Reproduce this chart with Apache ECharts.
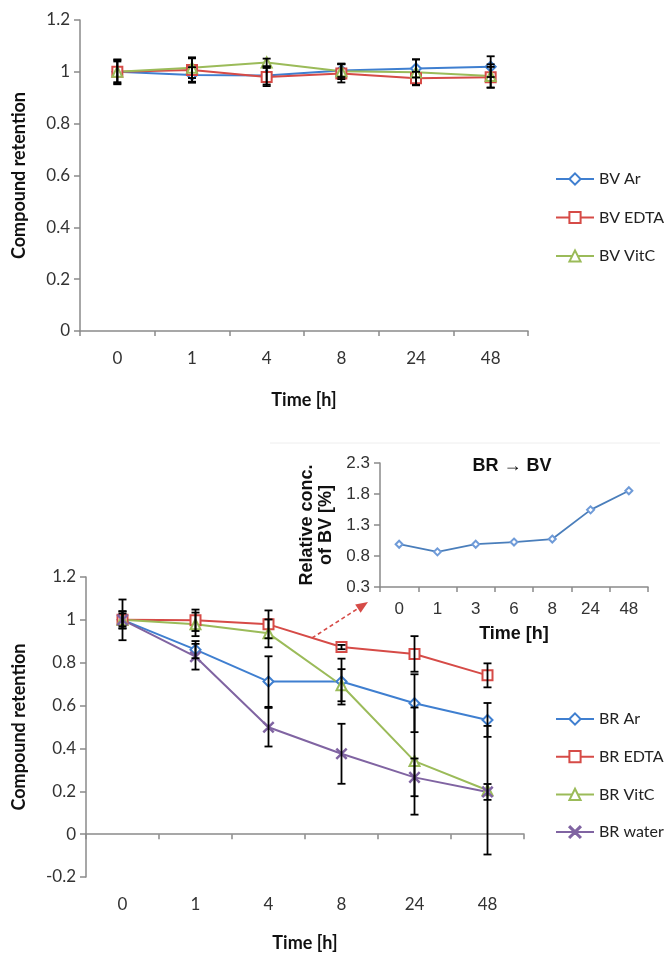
<!DOCTYPE html>
<html>
<head>
<meta charset="utf-8">
<title>Compound retention</title>
<script src="https://cdn.jsdelivr.net/npm/echarts@6/dist/echarts.min.js"></script>
<style>
  html, body { margin: 0; padding: 0; background: #fff; }
  #chart { width: 669px; height: 953px; }
</style>
</head>
<body>
<div id="chart"></div>
<script>
// 时间点
const hours = ['0', '1', '4', '8', '24', '48'];
const insetHours = ['0', '1', '3', '6', '8', '24', '48'];

// 上图：BV
const bvAr = [1.0, 0.988, 0.986, 1.005, 1.013, 1.02];
const bvEdta = [1.0, 1.007, 0.98, 0.994, 0.975, 0.979];
const bvVitc = [1.0, 1.016, 1.036, 1.002, 0.998, 0.984];
const bvArErr = [0.045, 0.03, 0.035, 0.025, 0.035, 0.04];
const bvEdtaErr = [0.04, 0.045, 0.035, 0.035, 0.025, 0.04];
const bvVitcErr = [0.048, 0.04, 0.015, 0.03, 0.05, 0.045];

// 下图：BR
const brAr = [1.0, 0.861, 0.712, 0.712, 0.611, 0.533];
const brEdta = [1.0, 0.998, 0.979, 0.873, 0.841, 0.741];
const brVitc = [1.0, 0.979, 0.937, 0.695, 0.341, 0.205];
const brWater = [1.0, 0.828, 0.499, 0.375, 0.265, 0.197];
const brArErr = [0.095, 0.04, 0.118, 0.107, 0.135, 0.079];
const brEdtaErr = [0.04, 0.05, 0.065, 0.01, 0.083, 0.056];
const brVitcErr = [0.04, 0.055, 0.065, 0.075, 0.25, 0.3];
const brWaterErr = [0.03, 0.06, 0.09, 0.14, 0.088, 0.037];

// 小图：BR → BV
const relBv = [0.99, 0.867, 0.99, 1.025, 1.073, 1.544, 1.852];

const colors = { ar: '#3f7fd0', edta: '#d64b47', vitc: '#9bbb59', water: '#8064a2' };
const xMark = 'path://M0,0.7L0.7,0L5,4.3L9.3,0L10,0.7L5.7,5L10,9.3L9.3,10L5,5.7L0.7,10L0,9.3L4.3,5Z';
const axisGray = '#8a8a8a';
const mainFont = 'Lato';
const insetFont = 'Liberation Sans';

const errData = (vals, errs) => vals.map((v, i) => [i, v - errs[i], v + errs[i]]);

const renderErr = (params, api) => {
    const hi = api.coord([api.value(0), api.value(2)]);
    const lo = api.coord([api.value(0), api.value(1)]);
    const w = 4;
    const style = { stroke: '#000', lineWidth: 1.8 };
    return {
        type: 'group',
        children: [
            { type: 'line', shape: { x1: hi[0], y1: hi[1], x2: lo[0], y2: lo[1] }, style },
            { type: 'line', shape: { x1: hi[0] - w, y1: hi[1], x2: hi[0] + w, y2: hi[1] }, style },
            { type: 'line', shape: { x1: lo[0] - w, y1: lo[1], x2: lo[0] + w, y2: lo[1] }, style }
        ]
    };
};

const lineSeries = (name, data, color, symbol, size, idx) => ({
    type: 'line', name, data,
    xAxisIndex: idx, yAxisIndex: idx,
    symbol, symbolSize: size, showAllSymbol: true,
    lineStyle: { color, width: 2 },
    itemStyle: { color, borderColor: color, borderWidth: 1.5 },
    z: 3
});

const errSeries = (vals, errs, idx) => ({
    type: 'custom',
    xAxisIndex: idx, yAxisIndex: idx,
    data: errData(vals, errs),
    encode: { x: 0, y: [1, 2] },
    renderItem: renderErr,
    silent: true,
    z: 4
});

const catAxis = (idx, data, nameGap, font, size, margin) => ({
    type: 'category', gridIndex: idx, data,
    name: 'Time [h]', nameLocation: 'middle', nameGap,
    nameTextStyle: { fontFamily: font, fontWeight: 'bold', fontSize: size + 1, color: '#111' },
    axisLine: { lineStyle: { color: axisGray, width: 1.5 } },
    axisTick: { show: true, length: 5, lineStyle: { color: axisGray, width: 1.5 } },
    axisLabel: { fontFamily: font, fontSize: size, color: '#333', margin },
    splitLine: { show: false }
});

const valAxis = (idx, min, max, interval, name, nameGap, font, size) => ({
    type: 'value', gridIndex: idx, min, max, interval,
    name, nameLocation: 'middle', nameGap,
    nameTextStyle: { fontFamily: font, fontWeight: 'bold', fontSize: size + 1, color: '#111', lineHeight: 19 },
    axisLine: { show: true, lineStyle: { color: axisGray, width: 1.5 } },
    axisTick: { show: true, length: 6, lineStyle: { color: axisGray, width: 1.5 } },
    axisLabel: { fontFamily: font, fontSize: size, color: '#333', margin: 10 },
    splitLine: { show: false }
});

const chart = echarts.init(document.getElementById('chart'));

const option = {
    backgroundColor: '#fff',
    animation: false,
    title: {
        text: 'BR \u2192 BV', left: 507, top: 452, textAlign: 'center',
        textStyle: { fontFamily: insetFont, fontWeight: 'bold', fontSize: 18, color: '#111' }
    },
    legend: [
        {
            data: ['BV Ar', 'BV EDTA', 'BV VitC'],
            orient: 'vertical', left: 550, top: 166,
            itemWidth: 38, itemHeight: 14, itemGap: 22.5,
            textStyle: { fontFamily: mainFont, fontSize: 16, color: '#222' }
        },
        {
            data: ['BR Ar', 'BR EDTA', 'BR VitC', 'BR water'],
            orient: 'vertical', left: 550, top: 706,
            itemWidth: 38, itemHeight: 14, itemGap: 21.7,
            textStyle: { fontFamily: mainFont, fontSize: 16, color: '#222' }
        }
    ],
    grid: [
        { left: 80, top: 20, width: 448, height: 311 },
        { left: 86, top: 577, width: 438, height: 350 },
        { left: 380, top: 463, width: 268, height: 124 }
    ],
    xAxis: [
        catAxis(0, hours, 60, mainFont, 17, 19),
        catAxis(1, hours, 57, mainFont, 17, 19),
        catAxis(2, insetHours, 38, insetFont, 17, 14)
    ],
    yAxis: [
        valAxis(0, 0, 1.2, 0.2, 'Compound retention', 51, mainFont, 17),
        valAxis(1, -0.2, 1.2, 0.2, 'Compound retention', 57, mainFont, 17),
        valAxis(2, 0.3, 2.3, 0.5, 'Relative conc.\nof BV [%]', 44, insetFont, 17)
    ],
    series: [
        lineSeries('BV Ar', bvAr, colors.ar, 'emptyDiamond', 10, 0),
        lineSeries('BV EDTA', bvEdta, colors.edta, 'emptyRect', 10, 0),
        lineSeries('BV VitC', bvVitc, colors.vitc, 'emptyTriangle', 10, 0),
        errSeries(bvAr, bvArErr, 0),
        errSeries(bvEdta, bvEdtaErr, 0),
        errSeries(bvVitc, bvVitcErr, 0),

        lineSeries('BR Ar', brAr, colors.ar, 'emptyDiamond', 10, 1),
        lineSeries('BR EDTA', brEdta, colors.edta, 'emptyRect', 10, 1),
        lineSeries('BR VitC', brVitc, colors.vitc, 'emptyTriangle', 10, 1),
        lineSeries('BR water', brWater, colors.water, xMark, 10, 1),
        errSeries(brAr, brArErr, 1),
        errSeries(brEdta, brEdtaErr, 1),
        errSeries(brVitc, brVitcErr, 1),
        errSeries(brWater, brWaterErr, 1),

        {
            type: 'line', name: 'BV rel', data: relBv,
            xAxisIndex: 2, yAxisIndex: 2,
            symbol: 'emptyDiamond', symbolSize: 7, showAllSymbol: true,
            lineStyle: { color: '#4a7ebb', width: 1.8 },
            itemStyle: { color: '#6f9bd8', borderColor: '#6f9bd8', borderWidth: 1.2 }
        }
    ],
    graphic: [
        // 小图边框（上沿很淡）
        { type: 'line', shape: { x1: 270, y1: 443, x2: 660, y2: 443 }, style: { stroke: '#eeeeee', lineWidth: 1 }, silent: true },
        // 红色虚线箭头
        { type: 'line', shape: { x1: 312, y1: 638, x2: 358, y2: 608.5 }, style: { stroke: '#d64b47', lineWidth: 1.6, lineDash: [4, 3] }, silent: true },
        { type: 'polygon', shape: { points: [[368, 602], [360.6, 612.8], [355.2, 604.4]] }, style: { fill: '#d64b47' }, silent: true }
    ]
};

chart.setOption(option);
</script>
</body>
</html>
